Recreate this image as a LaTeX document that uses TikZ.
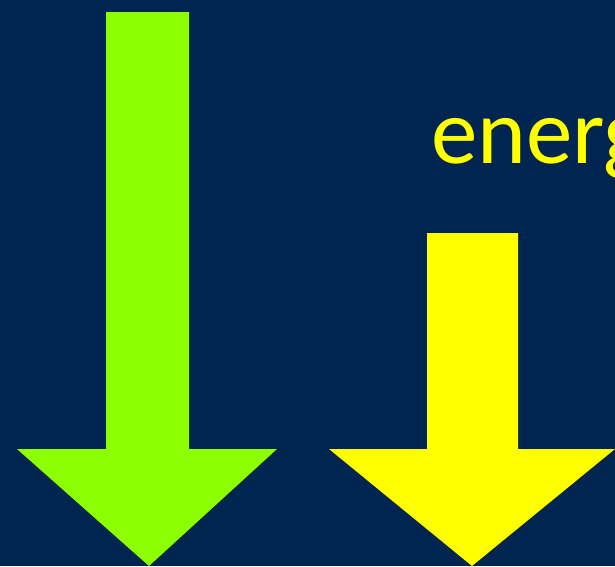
\documentclass[tikz,border=0pt]{standalone}
\usepackage{fontspec}
\setmainfont{Carlito}
\definecolor{navy}{RGB}{0,37,81}
\definecolor{lime}{RGB}{140,255,0}
\definecolor{yel}{RGB}{255,255,0}
\tikzset{bigarrow/.style={fill=#1, draw=none}}
\begin{document}
\begin{tikzpicture}[x=1pt,y=-1pt]
\useasboundingbox (0,0) rectangle (615,566);
\clip (0,0) rectangle (615,566);
\fill[navy] (0,0) rectangle (615,566);
% green arrow
\fill[bigarrow=lime] (106,12) -- (189,12) -- (189,449) -- (277,449) -- (149,566) -- (17,449) -- (106,449) -- cycle;
% yellow arrow
\fill[bigarrow=yel] (427,233) -- (518,233) -- (518,449) -- (615,449) -- (472,566) -- (329,449) -- (427,449) -- cycle;
\node[anchor=base west, inner sep=0pt, text=yel, font=\fontsize{93}{110}\selectfont] (lbl) at (431,163) {energ};
\end{tikzpicture}
\end{document}
